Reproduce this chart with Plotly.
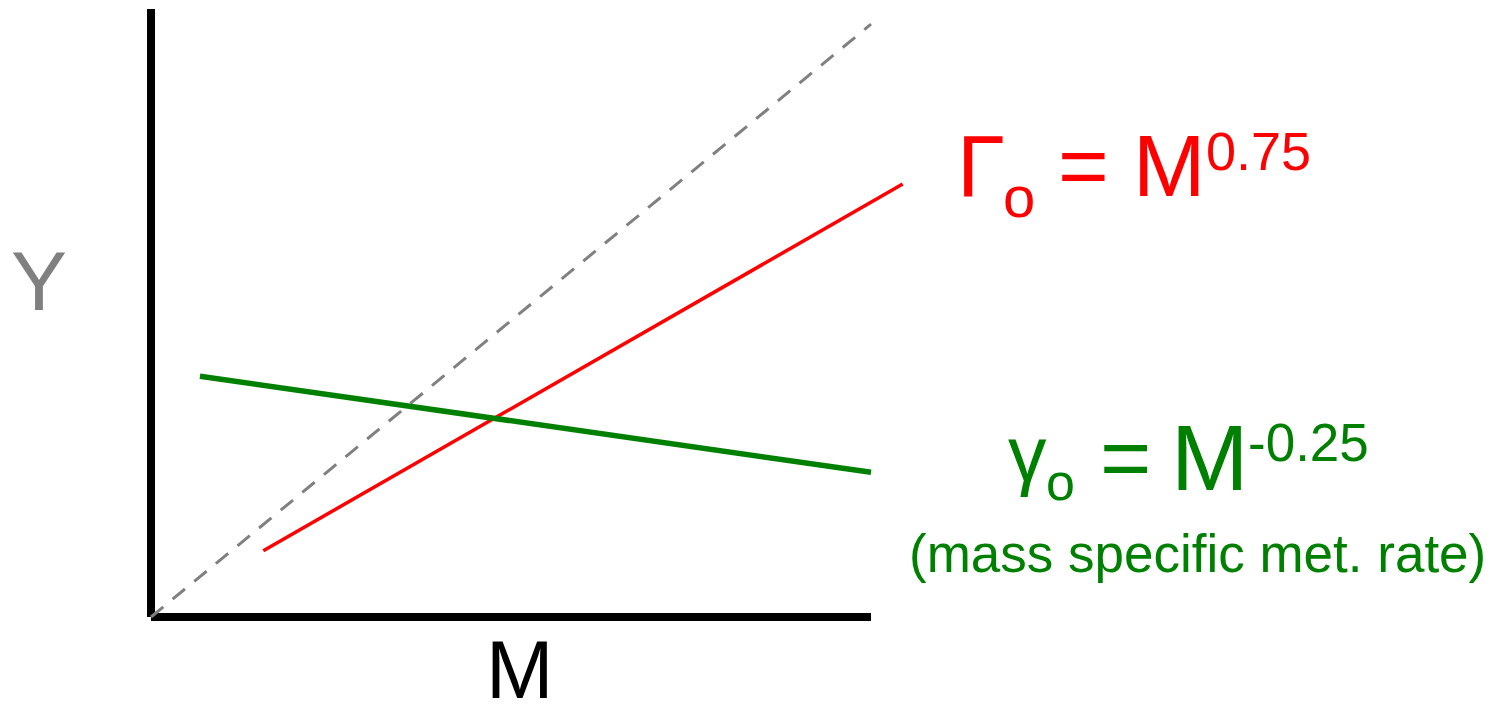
import plotly.graph_objects as go

# ---- data (log-log sketch of allometric scaling) ----
axis_x_extent = [0, 10]          # horizontal axis, M
axis_y_extent = [0, 10]          # vertical axis, Y

isometric_x = [0, 10]            # slope-1 reference (dashed grey)
isometric_y = [0, 9.75]

whole_x = [1.56, 10.44]          # Γo = M^0.75 (red)
whole_y = [1.09, 7.12]

specific_x = [0.68, 10.0]        # γo = M^-0.25 (green)
specific_y = [3.96, 2.38]

W, H = 1495, 716
FONT = "Liberation Sans"
RED, GREEN, GREY, BLACK = "#ff0000", "#008000", "#808080", "#000000"

fig = go.Figure()

fig.add_trace(go.Scatter(x=isometric_x, y=isometric_y, mode="lines",
                         line=dict(color=GREY, width=3, dash="16px,12px"),
                         hoverinfo="skip"))
fig.add_trace(go.Scatter(x=whole_x, y=whole_y, mode="lines",
                         line=dict(color=RED, width=3.5), hoverinfo="skip"))
fig.add_trace(go.Scatter(x=specific_x, y=specific_y, mode="lines",
                         line=dict(color=GREEN, width=5.5), hoverinfo="skip"))

# thick black axes meeting at the origin
fig.add_shape(type="line", x0=0, x1=0, y0=axis_y_extent[0], y1=axis_y_extent[1],
              line=dict(color=BLACK, width=8), layer="below")
fig.add_shape(type="line", x0=axis_x_extent[0], x1=axis_x_extent[1], y0=0, y1=0,
              line=dict(color=BLACK, width=8), layer="below")


def label(txt, x_px, baseline_px, size, color, xanchor="center"):
    """Place a text run by its horizontal anchor and baseline (pixels)."""
    fig.add_annotation(
        text=txt, xref="paper", yref="paper",
        x=x_px / W, y=1 - (baseline_px - 0.3465 * size) / H,
        xanchor=xanchor, yanchor="middle", showarrow=False,
        borderpad=0, borderwidth=0,
        font=dict(family=FONT, size=size, color=color),
    )


# axis titles
label("Y", 38.5, 310, 84, GREY)
label("M", 519, 698, 81, BLACK)

# Γo = M^0.75
label("Γ", 957, 196, 87, RED, xanchor="left")
label("o", 1019, 217, 58, RED)
label("=", 1083.5, 196, 87, RED)
label("M", 1169, 196, 87, RED)
label("0.75", 1258, 170, 54, RED)

# γo = M^-0.25
label("γ", 1027.5, 481, 77, GREEN)
label("o", 1060, 500, 52, GREEN)
label("=", 1125, 488, 88, GREEN)
label("M", 1209, 490, 93, GREEN)
label("-0.25", 1308, 461, 53, GREEN)
label("(mass specific met. rate)", 1197, 572, 53, GREEN)

fig.update_layout(
    width=W, height=H,
    margin=dict(l=0, r=0, t=0, b=0),
    paper_bgcolor="white", plot_bgcolor="white",
    showlegend=False,
    xaxis=dict(visible=False, range=[-151 / 72, 1344 / 72], fixedrange=True),
    yaxis=dict(visible=False, range=[-99 / 60.8, 617 / 60.8], fixedrange=True),
)

fig.write_html("out.html", config={"displayModeBar": False})
